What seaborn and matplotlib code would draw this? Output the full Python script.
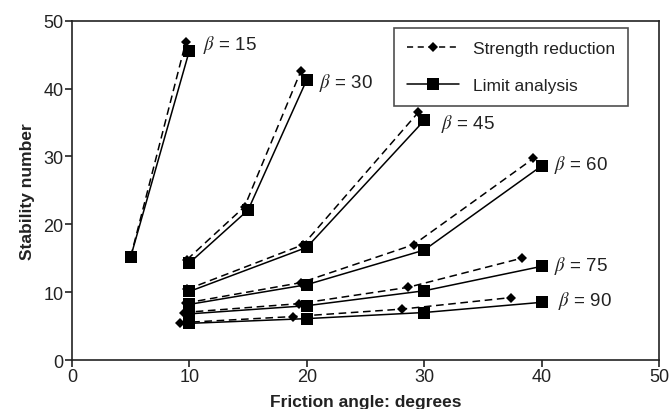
import numpy as np
import pandas as pd
import matplotlib
matplotlib.use("Agg")
import matplotlib.pyplot as plt
from matplotlib.lines import Line2D
import seaborn as sns

# ---- data ----
betas = [15, 30, 45, 60, 75, 90]

la_phi = {15: [5, 10], 30: [10, 15, 20], 45: [10, 20, 30],
          60: [10, 20, 30, 40], 75: [10, 20, 30, 40], 90: [10, 20, 30, 40]}
la_N = {15: [15.2, 45.6], 30: [14.3, 22.1, 41.3], 45: [10.1, 16.6, 35.3],
        60: [8.2, 11.1, 16.2, 28.6], 75: [6.8, 8.0, 10.2, 13.8], 90: [5.4, 6.1, 7.0, 8.5]}

sr_phi = {15: [5, 9.7], 30: [9.8, 14.7, 19.5], 45: [9.8, 19.7, 29.5],
          60: [9.7, 19.5, 29.1, 39.3], 75: [9.5, 19.3, 28.6, 38.3], 90: [9.2, 18.8, 28.1, 37.4]}
sr_N = {15: [15.2, 46.9], 30: [14.8, 22.6, 42.6], 45: [10.4, 17.0, 36.5],
        60: [8.4, 11.4, 17.0, 29.7], 75: [7.0, 8.3, 10.7, 15.0], 90: [5.5, 6.4, 7.5, 9.2]}

label_x = [11.2, 21.0, 31.4, 41.1, 41.1, 41.4]
label_y = [46.5, 41.0, 35.0, 28.9, 14.0, 8.8]

x_ticks = [0, 10, 20, 30, 40, 50]
y_ticks = [0, 10, 20, 30, 40, 50]

rows = []
for b in betas:
    for p, n in zip(la_phi[b], la_N[b]):
        rows.append(("Limit analysis", b, p, n))
    for p, n in zip(sr_phi[b], sr_N[b]):
        rows.append(("Strength reduction", b, p, n))
df = pd.DataFrame(rows, columns=["method", "beta", "phi", "N"])

# ---- plot ----
sns.set_theme(style="white")
plt.rcParams["font.family"] = ["Liberation Sans", "DejaVu Sans"]
plt.rcParams["mathtext.fontset"] = "stix"

fig = plt.figure(figsize=(6.69, 4.10), dpi=100)
ax = fig.add_axes([0.1076, 0.1195, 0.8774, 0.8275])

sns.lineplot(data=df[df.method == "Strength reduction"], x="phi", y="N",
             units="beta", estimator=None, color="black", linewidth=1.1,
             linestyle=(0, (5, 3)), marker="D", markersize=5,
             markeredgewidth=0, ax=ax, legend=False)
sns.lineplot(data=df[df.method == "Limit analysis"], x="phi", y="N",
             units="beta", estimator=None, color="black", linewidth=1.1,
             marker="s", markersize=8.5, markeredgewidth=0, ax=ax, legend=False)

for b, lx, ly in zip(betas, label_x, label_y):
    ax.text(lx, ly, r"$\beta$ = %d" % b, fontsize=13.5, color="#222222",
            va="center", ha="left")

ax.set_xlim(0, 50)
ax.set_ylim(0, 50)
ax.set_xticks(x_ticks)
ax.set_yticks(y_ticks)
ax.tick_params(axis="both", direction="out", length=5, width=1.2,
               labelsize=13, colors="#222222", pad=1, bottom=True, left=True)
for s in ax.spines.values():
    s.set_color("#222222")
    s.set_linewidth(1.2)

ax.set_xlabel("Friction angle: degrees", fontsize=12.5, fontweight="bold",
              color="#222222", labelpad=6)
ax.set_ylabel("Stability number", fontsize=12.5, fontweight="bold",
              color="#222222", labelpad=6)

handles = [
    Line2D([], [], color="black", linewidth=1.1, linestyle=(0, (4, 3)),
           marker="D", markersize=5, markeredgewidth=0),
    Line2D([], [], color="black", linewidth=1.1, marker="s", markersize=8.5,
           markeredgewidth=0),
]
leg = ax.legend(handles, ["Strength reduction", "Limit analysis"],
                loc="upper right", bbox_to_anchor=(0.947, 0.978),
                fontsize=12.5, frameon=True, fancybox=False, handlelength=3.0,
                labelspacing=1.25, borderpad=0.75, handletextpad=0.8,
                borderaxespad=0)
leg.get_frame().set_edgecolor("#222222")
leg.get_frame().set_linewidth(1.2)
for t in leg.get_texts():
    t.set_color("#222222")

fig.savefig("out.png", dpi=100)
